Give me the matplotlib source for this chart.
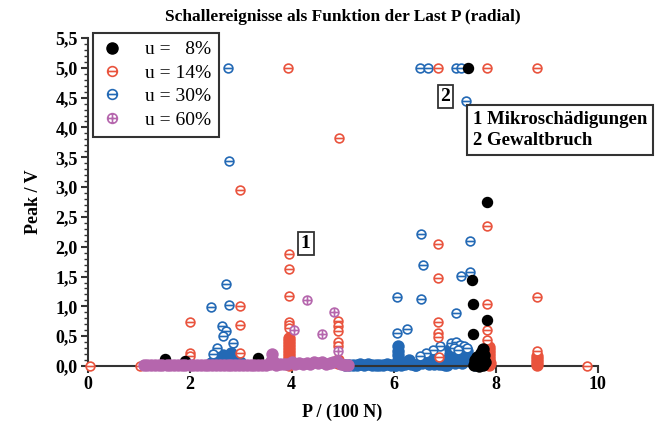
import matplotlib
matplotlib.use('Agg')
import matplotlib.pyplot as plt
from matplotlib.path import Path
from matplotlib.lines import Line2D
from matplotlib.ticker import MultipleLocator, FuncFormatter

plt.rcParams['font.family'] = ['Liberation Serif', 'DejaVu Serif']

# u = 8 %  (black, filled)
u8_x = [7.47, 7.84, 7.54, 7.55, 7.84, 7.55, 3.35, 1.51, 1.91]
u8_y = [5.00, 2.75, 1.44, 1.04, 0.78, 0.53, 0.13, 0.11, 0.08]
u8_dense_x = [7.58, 7.62, 7.66, 7.68, 7.70, 7.72, 7.75, 7.75, 7.78, 7.80, 7.64, 7.60]
u8_dense_y = [0.02, 0.05, 0.08, 0.00, 0.14, 0.22, 0.28, 0.02, 0.18, 0.06, 0.15, 0.10]

# u = 14 %  (red)
u14_x = [3.94, 6.87, 7.84, 8.81, 4.93, 2.98, 7.84, 6.87, 3.95, 3.95,
         6.87, 3.95, 8.81, 7.84, 2.98, 4.92, 4.92, 4.92, 4.92, 4.92,
         3.95, 3.95, 3.95, 2.00, 2.98, 6.87, 6.87, 6.87, 7.84, 7.84,
         8.81, 2.98, 2.00, 2.00, 0.05, 1.02, 9.79, 6.90]
u14_y = [5.00, 5.00, 5.00, 5.00, 3.82, 2.95, 2.35, 2.04, 1.88, 1.63,
         1.47, 1.17, 1.16, 1.04, 1.01, 0.75, 0.67, 0.58, 0.40, 0.33,
         0.74, 0.69, 0.63, 0.73, 0.68, 0.73, 0.56, 0.49, 0.60, 0.44,
         0.26, 0.22, 0.22, 0.16, 0.00, 0.00, 0.00, 0.15]
u14_dense_x = [3.95, 3.95, 3.95, 3.95, 3.95, 3.95, 3.95, 3.95, 3.95, 3.95,
               7.88, 7.88, 7.88, 7.88, 7.88, 7.88, 7.88, 7.90,
               8.81, 8.81, 8.81, 8.81, 4.92, 4.92]
u14_dense_y = [0.02, 0.07, 0.12, 0.17, 0.22, 0.27, 0.32, 0.37, 0.42, 0.47,
               0.02, 0.07, 0.12, 0.17, 0.22, 0.27, 0.32, 0.05,
               0.02, 0.07, 0.12, 0.17, 0.10, 0.05]

# u = 30 %  (blue)
u30_x = [2.75, 6.51, 6.68, 7.23, 7.32, 7.42, 2.77, 6.53, 7.49, 6.58,
         7.49, 7.32, 2.71, 6.07, 6.53, 2.43, 2.77, 7.23, 2.64, 2.71,
         2.66, 6.26, 6.07, 2.85, 6.91, 6.77, 6.63, 6.51, 2.53, 2.47,
         7.13, 7.22, 7.30, 7.38, 7.45, 7.18, 7.27]
u30_y = [5.00, 5.00, 5.00, 5.00, 5.00, 4.45, 3.44, 2.21, 2.10, 1.69,
         1.57, 1.51, 1.37, 1.16, 1.12, 0.99, 1.02, 0.89, 0.67, 0.58,
         0.50, 0.62, 0.55, 0.39, 0.34, 0.27, 0.22, 0.17, 0.30, 0.20,
         0.38, 0.40, 0.36, 0.33, 0.30, 0.30, 0.27]
u30_dense_x = [2.42, 2.50, 2.58, 2.66, 2.74, 2.82, 2.90, 2.98, 2.55, 2.80,
               5.05, 5.12, 5.20, 5.28, 5.35, 5.42, 5.50, 5.58, 5.65, 5.72,
               5.80, 5.88, 5.95, 6.02, 6.05, 6.08, 6.08, 6.08, 6.08, 6.10,
               6.15, 6.22, 6.25, 6.30, 6.35, 6.42, 6.45, 6.55, 6.60, 6.65,
               6.70, 6.75, 6.80, 6.85, 6.90, 6.95, 7.00, 7.05, 7.10, 7.10,
               7.15, 7.20, 7.25, 7.30, 7.35, 7.40, 7.45, 7.50, 7.55, 7.60,
               7.20, 7.35, 7.45, 7.05]
u30_dense_y = [0.05, 0.10, 0.15, 0.18, 0.15, 0.22, 0.12, 0.06, 0.20, 0.10,
               0.02, 0.02, 0.02, 0.02, 0.03, 0.02, 0.03, 0.02, 0.02, 0.02,
               0.02, 0.03, 0.02, 0.02, 0.02, 0.10, 0.18, 0.26, 0.33, 0.05,
               0.02, 0.03, 0.06, 0.10, 0.03, 0.02, 0.02, 0.05, 0.10, 0.06,
               0.03, 0.12, 0.04, 0.08, 0.03, 0.03, 0.02, 0.10, 0.20, 0.28,
               0.12, 0.22, 0.15, 0.25, 0.18, 0.22, 0.12, 0.08, 0.05, 0.02,
               0.05, 0.05, 0.25, 0.02]

# u = 60 %  (purple)
u60_x = [4.31, 4.84, 4.04, 4.59, 4.92]
u60_y = [1.10, 0.91, 0.61, 0.54, 0.25]
u60_dense_x = [1.10, 1.17, 1.25, 1.32, 1.40, 1.47, 1.55, 1.62, 1.70, 1.77,
               1.85, 1.92, 2.00, 2.07, 2.15, 2.22, 2.30, 2.37, 2.45, 2.52,
               2.60, 2.67, 2.75, 2.82, 2.90, 2.97, 3.05, 3.12, 3.20, 3.27,
               3.35, 3.42, 3.50, 3.57, 3.60, 3.62, 3.64, 3.70, 3.77, 3.85,
               3.92, 4.00, 4.07, 4.15, 4.22, 4.30, 4.37, 4.45, 4.52, 4.60,
               4.67, 4.75, 4.82, 4.90, 4.97, 5.05, 5.10]
u60_dense_y = [0.02, 0.02, 0.02, 0.02, 0.02, 0.02, 0.02, 0.02, 0.02, 0.02,
               0.02, 0.02, 0.02, 0.02, 0.02, 0.02, 0.02, 0.02, 0.02, 0.02,
               0.02, 0.02, 0.02, 0.02, 0.02, 0.02, 0.02, 0.02, 0.02, 0.02,
               0.02, 0.02, 0.02, 0.03, 0.08, 0.20, 0.08, 0.02, 0.03, 0.03,
               0.04, 0.06, 0.04, 0.05, 0.03, 0.05, 0.04, 0.06, 0.05, 0.06,
               0.04, 0.05, 0.07, 0.08, 0.04, 0.02, 0.02]

labels = ['u =   8%', 'u = 14%', 'u = 30%', 'u = 60%']
colors = ['black', '#e9533d', '#2369b5', '#b566ad']

# markers: circle with a bar, circle with a cross
circle = Path.unit_circle()
bar = Path([[-1, 0], [1, 0]], [Path.MOVETO, Path.LINETO])
vbar = Path([[0, -1], [0, 1]], [Path.MOVETO, Path.LINETO])
m_minus = Path.make_compound_path(circle, bar)
m_plus = Path.make_compound_path(circle, bar, vbar)

fig = plt.figure(figsize=(6.64, 4.26), dpi=100)
ax = fig.add_axes([0.1318, 0.1408, 0.7681, 0.7700])

S = 40
SD = 80  # overlapping hits merge into solid bands
LW = 1.2
ax.scatter(u30_dense_x, u30_dense_y, s=SD, marker='o', color=colors[2], linewidths=0, clip_on=False, zorder=2)
ax.scatter(u30_x, u30_y, s=S, marker=m_minus, facecolors='white', edgecolors=colors[2], linewidths=LW, clip_on=False, zorder=3)
ax.scatter(u14_dense_x, u14_dense_y, s=SD, marker='o', color=colors[1], linewidths=0, clip_on=False, zorder=3)
ax.scatter(u14_x, u14_y, s=S, marker=m_minus, facecolors='white', edgecolors=colors[1], linewidths=LW, clip_on=False, zorder=4)
ax.scatter(u8_dense_x, u8_dense_y, s=SD, marker='o', color=colors[0], linewidths=0, clip_on=False, zorder=4)
ax.scatter(u8_x, u8_y, s=S * 1.3, marker='o', color=colors[0], clip_on=False, zorder=5)
ax.scatter(u60_dense_x, u60_dense_y, s=SD, marker='o', color=colors[3], linewidths=0, clip_on=False, zorder=5)
ax.scatter(u60_x, u60_y, s=S, marker=m_plus, facecolors='white', edgecolors=colors[3], linewidths=LW, clip_on=False, zorder=6)

ax.set_xlim(0, 10)
ax.set_ylim(0, 5.5)
for side in ['top', 'right']:
    ax.spines[side].set_visible(False)
for side in ['left', 'bottom']:
    ax.spines[side].set_linewidth(1.5)
    ax.spines[side].set_color('#333333')

ax.xaxis.set_major_locator(MultipleLocator(2))
ax.yaxis.set_major_locator(MultipleLocator(0.5))
ax.yaxis.set_minor_locator(MultipleLocator(0.1))
ax.yaxis.set_major_formatter(FuncFormatter(lambda v, p: ('%.1f' % v).replace('.', ',')))
ax.tick_params(axis='both', which='major', length=5, width=1.5, color='#333333', labelsize=13, pad=2)
ax.tick_params(axis='y', which='minor', length=3, width=1.0, color='#333333')
for lab in ax.get_xticklabels() + ax.get_yticklabels():
    lab.set_fontweight('bold')

ax.set_xlabel('P / (100 N)', fontsize=13, fontweight='bold', labelpad=8)
ax.set_ylabel('Peak / V', fontsize=13, fontweight='bold', labelpad=10)
ax.set_title('Schallereignisse als Funktion der Last P (radial)', fontsize=12.5, fontweight='bold', pad=12)

handles = [
    Line2D([], [], linestyle='none', marker='o', markersize=8, color=colors[0]),
    Line2D([], [], linestyle='none', marker=m_minus, markersize=7, markerfacecolor='white', markeredgecolor=colors[1], markeredgewidth=LW),
    Line2D([], [], linestyle='none', marker=m_minus, markersize=7, markerfacecolor='white', markeredgecolor=colors[2], markeredgewidth=LW),
    Line2D([], [], linestyle='none', marker=m_plus, markersize=7, markerfacecolor='white', markeredgecolor=colors[3], markeredgewidth=LW),
]
leg = ax.legend(handles, labels, loc='upper left', bbox_to_anchor=(0.140, 0.9225), bbox_transform=fig.transFigure,
                borderaxespad=0, fancybox=False, edgecolor='#333333', fontsize=14, handletextpad=1.1,
                labelspacing=0.3, borderpad=0.4, handlelength=1.2, framealpha=1)
leg.get_frame().set_linewidth(1.5)
leg.set_zorder(10)

# annotations
box = dict(boxstyle='square,pad=0.15', facecolor='white', edgecolor='#333333', linewidth=1.3)
ax.text(4.28, 2.05, '1', fontsize=14, fontweight='bold', ha='center', va='center', bbox=box, zorder=8)
ax.text(7.02, 4.52, '2', fontsize=14, fontweight='bold', ha='center', va='center', bbox=box, zorder=8)
fig.text(0.712, 0.695, '1 Mikroschädigungen\n2 Gewaltbruch', fontsize=13.5, fontweight='bold', ha='left', va='center',
         linespacing=1.3, bbox=dict(boxstyle='square,pad=0.3', facecolor='white', edgecolor='#333333', linewidth=1.5), zorder=8)

fig.savefig('out.png', dpi=100)
